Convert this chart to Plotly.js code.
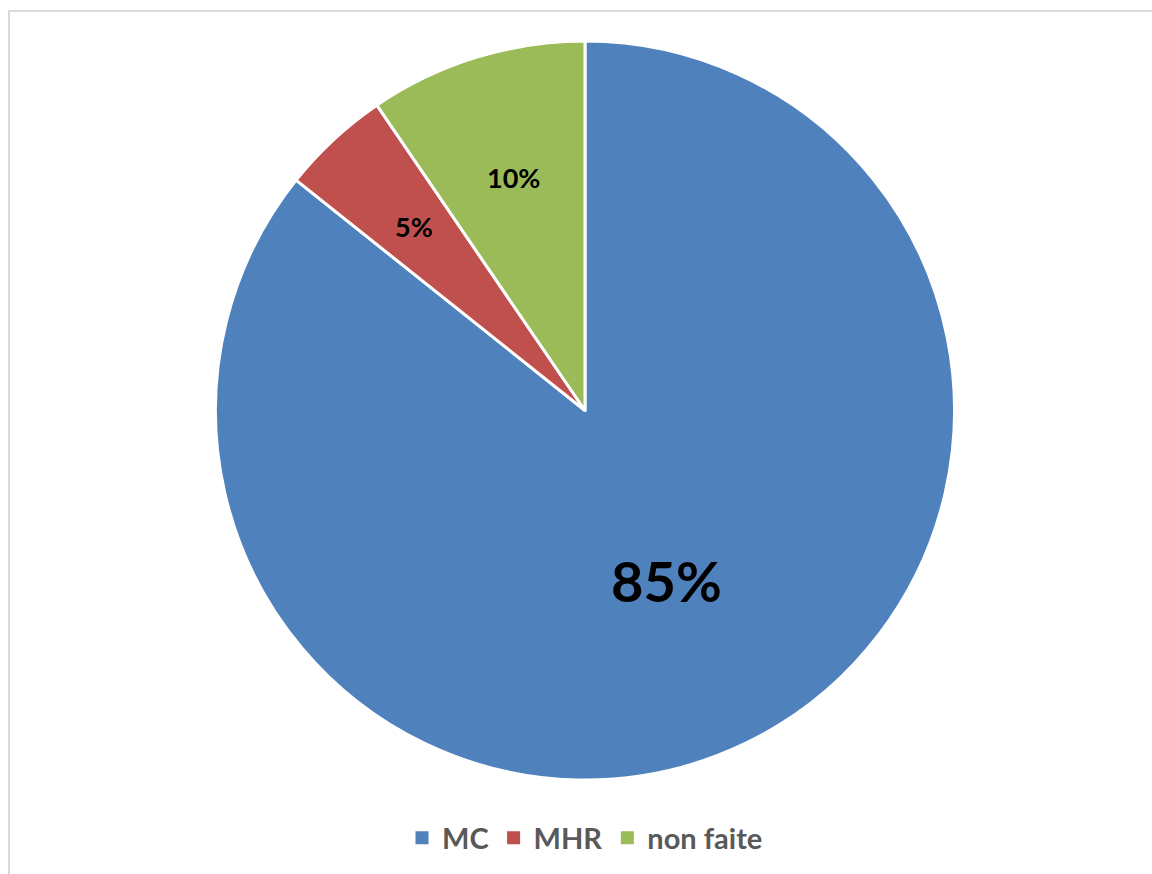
<!DOCTYPE html>
<html>
<head>
<meta charset="utf-8">
<script src="https://cdn.plot.ly/plotly-3.0.1.min.js"></script>
<style>
  html, body { margin: 0; padding: 0; background: #fff; }
  #wrap { position: relative; width: 1152px; height: 874px; overflow: hidden; }
  #chart { position: absolute; left: 0; top: 0; width: 1152px; height: 874px; }
  #frame { position: absolute; left: 8px; top: 10px; width: 1200px; height: 900px;
           border-left: 2px solid #d9d9d9; border-top: 2px solid #d9d9d9; pointer-events: none; }
</style>
</head>
<body>
<div id="wrap">
  <div id="chart"></div>
  <div id="frame"></div>
</div>
<script>
const categories = ["MC", "MHR", "non faite"];
const values = [18, 1, 2];
const labelsText = ["85%", "5%", "10%"];
const colors = ["#4F81BD", "#C0504D", "#9BBB59"];
const labelSizes = [56, 27, 27];
const labelRadius = [0.51, 0.68, 0.66];

const W = 1152, H = 874;
const margin = { l: 215, r: 197, t: 41, b: 93 };

const trace = {
  type: "pie",
  labels: categories,
  values: values,
  sort: false,
  direction: "clockwise",
  rotation: 0,
  textinfo: "none",
  hoverinfo: "label+percent",
  marker: { colors: colors, line: { color: "#ffffff", width: 3 } },
  domain: { x: [0, 1], y: [0, 1] }
};

const total = values.reduce((a, b) => a + b, 0);
const annotations = [];
let cum = 0;
for (let i = 0; i < values.length; i++) {
  const mid = (cum + values[i] / 2) / total * 2 * Math.PI;
  cum += values[i];
  const r = labelRadius[i] * 0.5;
  annotations.push({
    xref: "paper", yref: "paper",
    x: 0.5 + r * Math.sin(mid),
    y: 0.5 + r * Math.cos(mid),
    text: "<b>" + labelsText[i] + "</b>",
    showarrow: false,
    xanchor: "center", yanchor: "middle",
    font: { family: "Lato, 'Open Sans', sans-serif", size: labelSizes[i], color: "#000000" }
  });
}

const layout = {
  width: W, height: H,
  margin: margin,
  paper_bgcolor: "#ffffff",
  plot_bgcolor: "#ffffff",
  showlegend: true,
  legend: {
    orientation: "h",
    x: 0.5, xanchor: "center",
    y: -0.077, yanchor: "middle",
    font: { family: "Lato, 'Open Sans', sans-serif", size: 29, color: "#595959", weight: "bold" },
    itemclick: false
  },
  annotations: annotations,
  font: { family: "Lato, 'Open Sans', sans-serif" }
};

function fixLegendSymbols() {
  document.querySelectorAll("#chart .legendpie").forEach(function (p) {
    p.setAttribute("d", "M6.5,6.5H-6.5V-6.5H6.5Z");
    p.style.strokeWidth = "0px";
  });
}

Plotly.newPlot("chart", [trace], layout, { displayModeBar: false, staticPlot: true })
  .then(fixLegendSymbols);
</script>
</body>
</html>
